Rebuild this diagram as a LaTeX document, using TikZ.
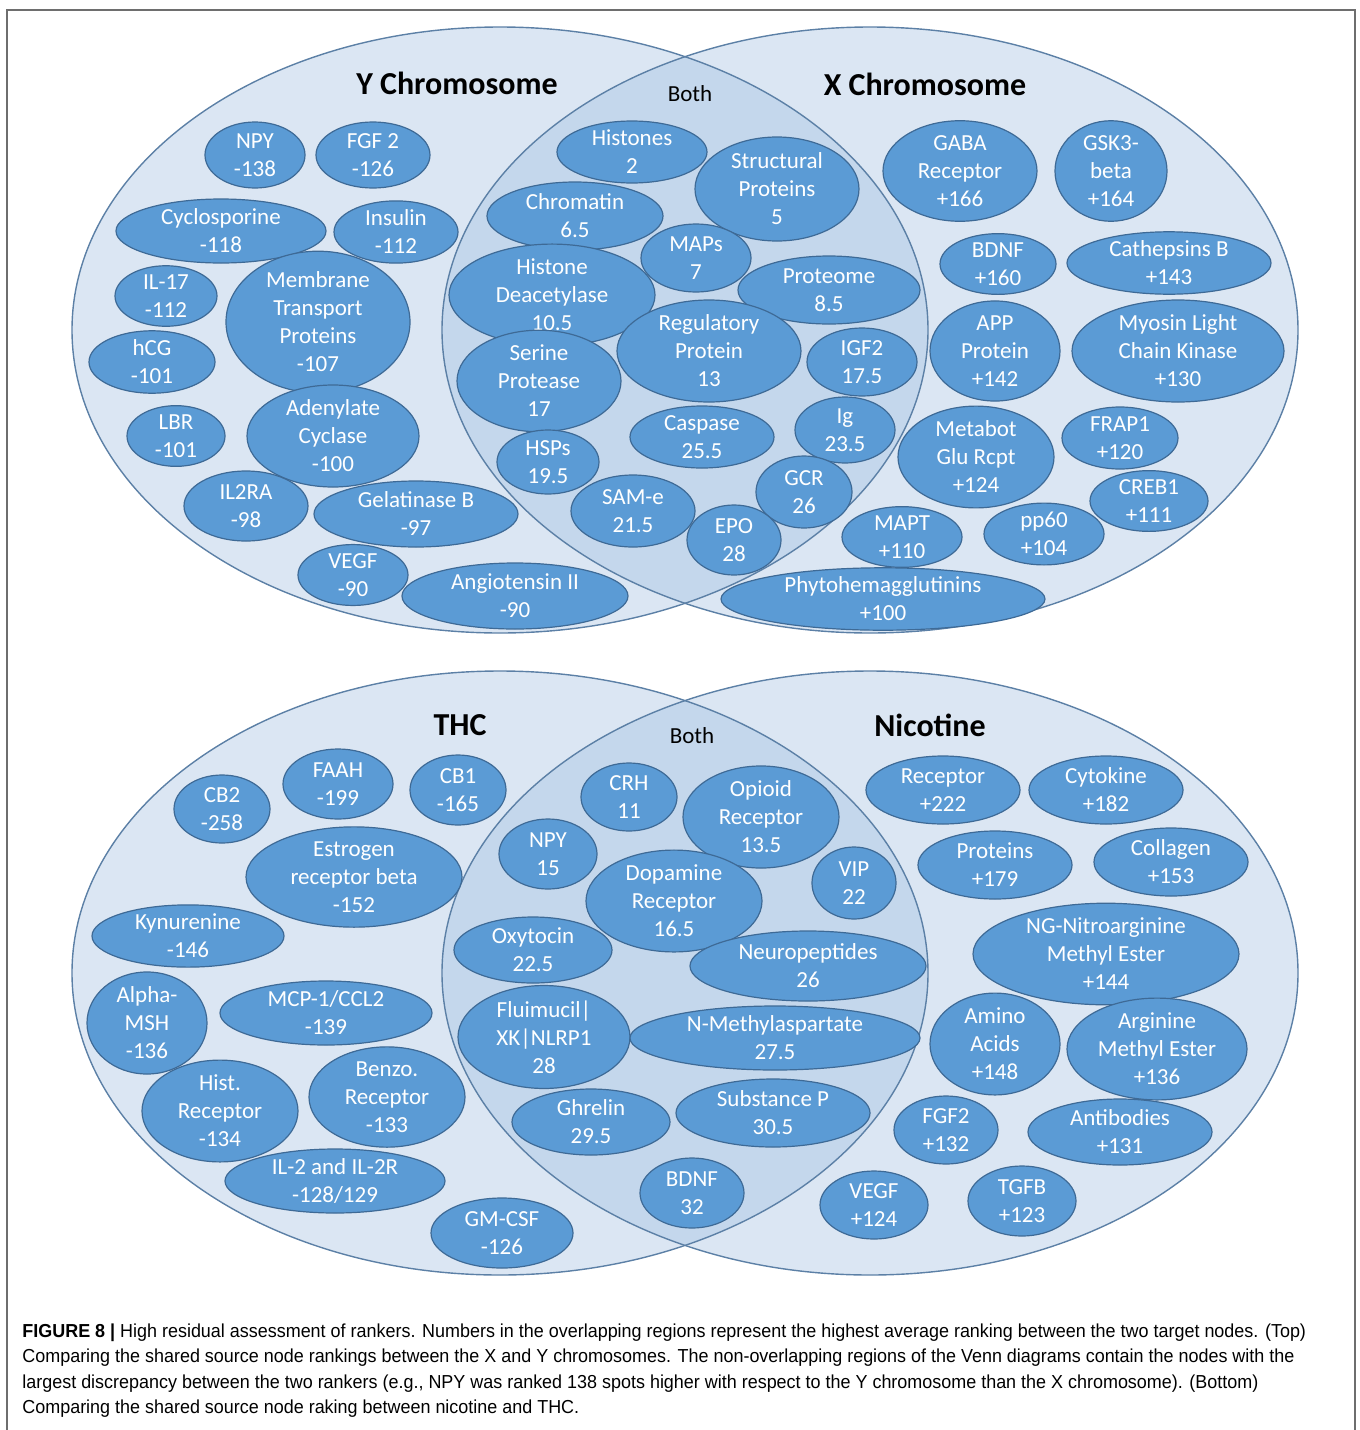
\documentclass[tikz,border=0pt]{standalone}
\usepackage{fontspec}
\setmainfont{Carlito}
\newfontfamily\capfont[FakeStretch=0.955]{Liberation Sans}
\usepackage{xcolor}
\usepackage{tikz}
\usetikzlibrary{shapes.geometric}
\definecolor{vennlight}{RGB}{219,230,243}
\definecolor{vennboth}{RGB}{196,215,236}
\definecolor{vennedge}{RGB}{92,128,166}
\definecolor{bubfill}{RGB}{91,155,213}
\definecolor{bubedge}{RGB}{62,106,150}
\definecolor{framegray}{RGB}{110,110,110}

\begin{document}
\begin{tikzpicture}[
    x=0.5pt, y=-0.5pt,
    bub/.style 2 args={ellipse, draw=bubedge, line width=0.6pt, fill=bubfill,
        text=white, inner sep=0pt, align=center,
        minimum width=#1pt, minimum height=#2pt,
        font=\fontsize{11.5}{14}\selectfont},
    venn/.style={draw=vennedge, line width=0.7pt},
    settitle/.style={font=\bfseries\fontsize{16}{19}\selectfont},
    bothlbl/.style={font=\fontsize{11.5}{14}\selectfont}
]
\useasboundingbox (0,0) rectangle (1360,1430);
\draw[framegray, line width=0.7pt] (7,10) rectangle (1355,1445);

% Top Venn: Y vs X chromosome
\fill[vennlight] (500,330) ellipse [x radius=428, y radius=303];
\fill[vennlight] (870,330) ellipse [x radius=428, y radius=303];
\begin{scope}
  \clip (500,330) ellipse [x radius=428, y radius=303];
  \fill[vennboth] (870,330) ellipse [x radius=428, y radius=303];
\end{scope}
\draw[venn] (500,330) ellipse [x radius=428, y radius=303];
\draw[venn] (870,330) ellipse [x radius=428, y radius=303];

\node[settitle] (ychr) at (457,83) {Y Chromosome};
\node[settitle] (xchr) at (925,84) {X Chromosome};
\node[bothlbl] (both1) at (690,94) {Both};

% Y only
\node[bub={50}{33}] (npyY) at (255,155) {NPY\\-138};
\node[bub={57}{33}] (fgfY) at (373,155) {FGF 2\\-126};
\node[bub={105}{32}] (cycY) at (221,231) {Cyclosporine\\-118};
\node[bub={62}{31}] (insY) at (396,232) {Insulin\\-112};
\node[bub={51}{30}] (il17Y) at (166,296) {IL-17\\-112};
\node[bub={92}{60}] (memY) at (318,322) {Membrane\\Transport\\Proteins\\-107};
\node[bub={63}{31}] (hcgY) at (152,362) {hCG\\-101};
\node[bub={49}{30}] (lbrY) at (176,436) {LBR\\-101};
\node[bub={86}{46}] (adcY) at (333,436) {Adenylate\\Cyclase\\-100};
\node[bub={62}{35}] (il2raY) at (246,506) {IL2RA\\-98};
\node[bub={102}{33}] (gelY) at (416,514) {Gelatinase B\\-97};
\node[bub={55}{30}] (vegfY) at (353,575) {VEGF\\-90};
\node[bub={113}{33}] (angY) at (515,596) {Angiotensin II\\-90};

% shared X and Y
\node[bub={75}{30}] (hisB) at (632,152) {Histones\\2};
\node[bub={82}{52}] (strB) at (777,189) {Structural\\Proteins\\5};
\node[bub={88}{34}] (chrB) at (575,216) {Chromatin\\6.5};
\node[bub={55}{34}] (mapB) at (696,258) {MAPs\\7};
\node[bub={103}{42}] (hdaB) at (552,295) {Histone\\Deacetylase\\10.5};
\node[bub={91}{34}] (prtB) at (829,290) {Proteome\\8.5};
\node[bub={92}{47}] (regB) at (709,351) {Regulatory\\Protein\\13};
\node[bub={55}{34}] (igf2B) at (862,362) {IGF2\\17.5};
\node[bub={82}{42}] (serB) at (539,381) {Serine\\Protease\\17};
\node[bub={72}{31}] (casB) at (702,437) {Caspase\\25.5};
\node[bub={50}{33}] (igB) at (845,430) {Ig\\23.5};
\node[bub={51}{32}] (hspB) at (548,462) {HSPs\\19.5};
\node[bub={48}{36}] (gcrB) at (804,492) {GCR\\26};
\node[bub={62}{36}] (samB) at (633,511) {SAM-e\\21.5};
\node[bub={47}{35}] (epoB) at (734,540) {EPO\\28};

% X only
\node[bub={77}{46}] (gabaX) at (960,171) {GABA\\Receptor\\+166};
\node[bub={56}{46}] (gskX) at (1111,171) {GSK3-\\beta\\+164};
\node[bub={58}{28}] (bdnfX) at (998,264) {BDNF\\+160};
\node[bub={102}{30}] (catX) at (1169,263) {Cathepsins B\\+143};
\node[bub={65}{48}] (appX) at (995,351) {APP\\Protein\\+142};
\node[bub={106}{47}] (myoX) at (1178,351) {Myosin Light\\Chain Kinase\\+130};
\node[bub={78}{49}] (gluX) at (976,457) {Metabot\\Glu Rcpt\\+124};
\node[bub={58}{31}] (frapX) at (1120,438) {FRAP1\\+120};
\node[bub={59}{29}] (crebX) at (1149,501) {CREB1\\+111};
\node[bub={60}{29}] (maptX) at (902,537) {MAPT\\+110};
\node[bub={60}{28}] (pp60X) at (1044,534) {pp60\\+104};
\node[bub={162}{30}] (phyX) at (883,599) {Phytohemagglutinins\\+100};

% Bottom Venn: THC vs Nicotine
\fill[vennlight] (500,973) ellipse [x radius=428, y radius=302];
\fill[vennlight] (870,973) ellipse [x radius=428, y radius=302];
\begin{scope}
  \clip (500,973) ellipse [x radius=428, y radius=302];
  \fill[vennboth] (870,973) ellipse [x radius=428, y radius=302];
\end{scope}
\draw[venn] (500,973) ellipse [x radius=428, y radius=302];
\draw[venn] (870,973) ellipse [x radius=428, y radius=302];

\node[settitle] (thc) at (460,725) {THC};
\node[settitle] (nic) at (930,725) {Nicotine};
\node[bothlbl] (both2) at (692,736) {Both};

% THC only
\node[bub={48}{34}] (cb2T) at (222,809) {CB2\\-258};
\node[bub={55}{35}] (faahT) at (338,784) {FAAH\\-199};
\node[bub={48}{35}] (cb1T) at (458,790) {CB1\\-165};
\node[bub={108}{43}] (estT) at (354,877) {Estrogen\\receptor beta\\-152};
\node[bub={96}{30}] (kynT) at (188,936) {Kynurenine\\-146};
\node[bub={60}{45}] (mshT) at (147,1023) {Alpha-\\MSH\\-136};
\node[bub={106}{32}] (mcpT) at (326,1013) {MCP-1/CCL2\\-139};
\node[bub={78}{45}] (histT) at (220,1111) {Hist.\\Receptor\\-134};
\node[bub={78}{42}] (benT) at (387,1097) {Benzo.\\Receptor\\-133};
\node[bub={110}{32}] (il2T) at (335,1181) {IL-2 and IL-2R\\-128/129};
\node[bub={71}{35}] (gmT) at (502,1233) {GM-CSF\\-126};

% shared THC and Nicotine
\node[bub={48}{34}] (crhS) at (629,797) {CRH\\11};
\node[bub={78}{43}] (opiS) at (761,817) {Opioid\\Receptor\\13.5};
\node[bub={49}{35}] (npyS) at (548,854) {NPY\\15};
\node[bub={42}{36}] (vipS) at (854,883) {VIP\\22};
\node[bub={88}{42}] (dopS) at (674,901) {Dopamine\\Receptor\\16.5};
\node[bub={79}{33}] (oxyS) at (533,950) {Oxytocin\\22.5};
\node[bub={118}{35}] (neuS) at (808,966) {Neuropeptides\\26};
\node[bub={86}{45}] (fluS) at (544,1037) {Fluimucil|\\XK|NLRP1\\28};
\node[bub={145}{32}] (nmaS) at (775,1038) {N-Methylaspartate\\27.5};
\node[bub={79}{33}] (ghrS) at (591,1122) {Ghrelin\\29.5};
\node[bub={97}{34}] (subS) at (773,1113) {Substance P\\30.5};
\node[bub={52}{35}] (bdnfS) at (692,1193) {BDNF\\32};

% Nicotine only
\node[bub={77}{34}] (recN) at (943,790) {Receptor\\+222};
\node[bub={77}{34}] (cytN) at (1106,790) {Cytokine\\+182};
\node[bub={77}{34}] (proN) at (995,865) {Proteins\\+179};
\node[bub={77}{34}] (colN) at (1171,862) {Collagen\\+153};
\node[bub={133}{47}] (ngN) at (1106,954) {NG-Nitroarginine\\Methyl Ester\\+144};
\node[bub={65}{45}] (amiN) at (995,1044) {Amino\\Acids\\+148};
\node[bub={90}{43}] (argN) at (1157,1049) {Arginine\\Methyl Ester\\+136};
\node[bub={52}{34}] (fgfN) at (946,1130) {FGF2\\+132};
\node[bub={92}{33}] (antN) at (1120,1132) {Antibodies\\+131};
\node[bub={54}{34}] (vegfN) at (874,1205) {VEGF\\+124};
\node[bub={54}{35}] (tgfN) at (1022,1201) {TGFB\\+123};

% Caption
\node[anchor=north west, align=left, inner sep=0pt,
      font=\capfont\fontsize{9.4}{12.75}\selectfont] (cap) at (22,1323)
  {\textbf{FIGURE 8 |} High residual assessment of rankers. Numbers in the overlapping regions represent the highest average ranking between the two target nodes. (Top)\\
   Comparing the shared source node rankings between the X and Y chromosomes. The non-overlapping regions of the Venn diagrams contain the nodes with the\\
   largest discrepancy between the two rankers (e.g., NPY was ranked 138 spots higher with respect to the Y chromosome than the X chromosome). (Bottom)\\
   Comparing the shared source node raking between nicotine and THC.};
\end{tikzpicture}
\end{document}
